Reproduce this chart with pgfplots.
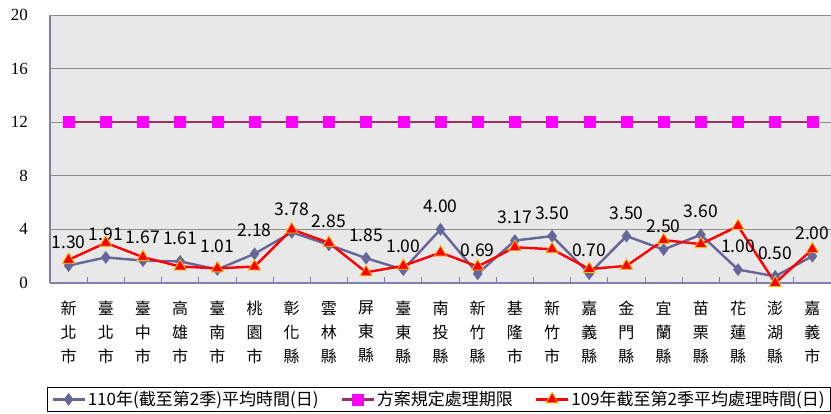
\documentclass[border=0pt]{standalone}
\usepackage{fontspec}
\setmainfont{Liberation Serif}
\newfontfamily\cjk{Noto Sans CJK TC}
\usepackage{pgfplots}
\pgfplotsset{compat=1.18}
\definecolor{bluec}{HTML}{666699}
\definecolor{magc}{HTML}{FF00FF}
\definecolor{marc}{HTML}{993366}
\definecolor{redc}{HTML}{FF0000}
\definecolor{yelc}{HTML}{FFC000}
\definecolor{bgc}{HTML}{E8E8E8}
\definecolor{axc}{HTML}{8080B0}
\definecolor{gridc}{HTML}{8C8C8C}
\begin{document}
\begin{tikzpicture}
\path[use as bounding box] (0,0) rectangle (831pt,413pt);
\begin{axis}[
  at={(50pt,130pt)}, anchor=south west,
  scale only axis, width=781pt, height=268pt,
  xmin=0.5, xmax=21.5, ymin=0, ymax=20,
  axis x line=bottom, axis y line=left,
  axis line style={-, color=axc, line width=1.2pt},
  axis background/.style={fill=bgc},
  ytick={0,4,...,20},
  ymajorgrids, major grid style={color=gridc, line width=0.9pt},
  major tick length=0pt,
  tick align=inside,
  /pgf/number format/assume math mode=true,
  yticklabel style={font=\fontsize{17}{17}\selectfont, inner sep=0pt, xshift=-22pt, anchor=east},
  xtick={1,...,21},
  xticklabels={新\\北\\市,臺\\北\\市,臺\\中\\市,高\\雄\\市,臺\\南\\市,桃\\園\\市,彰\\化\\縣,雲\\林\\縣,屏\\東\\縣,臺\\東\\縣,南\\投\\縣,新\\竹\\縣,基\\隆\\市,新\\竹\\市,嘉\\義\\縣,金\\門\\縣,宜\\蘭\\縣,苗\\栗\\縣,花\\蓮\\縣,澎\\湖\\縣,嘉\\義\\市},
  xticklabel style={font=\cjk\fontsize{16}{24}\selectfont, align=center, anchor=north, inner sep=0pt, yshift=-18pt},
  minor xtick={1.5,2.5,...,20.5},
  minor tick length=6pt,
  minor tick style={color=axc, line width=0.9pt},
  legend columns=3,
  legend style={at={(0,0)}, anchor=north west, xshift=-3pt, yshift=-104pt,
    draw=black, fill=white, line width=0.8pt,
    font=\cjk\fontsize{17}{17}\selectfont, inner xsep=4pt, inner ysep=2pt,
    /tikz/every even column/.append style={column sep=20pt}},
  legend image code/.code={\draw[mark repeat=2,mark phase=2,#1] plot coordinates {(0pt,0pt) (16pt,0pt) (32pt,0pt)};},
]
\addplot[color=bluec, line width=2.4pt, mark=diamond*, mark size=6pt,
  mark options={fill=bluec, draw=bluec, line width=0.5pt},
  nodes near coords={\pgfmathprintnumber[fixed,fixed zerofill,precision=2,assume math mode=true]{\pgfplotspointmeta}},
  every node near coord/.append style={font=\cjk\fontsize{17.5}{17.5}\selectfont, anchor=base, inner sep=0pt, yshift=17pt, color=black}]
coordinates {(1,1.30)(2,1.91)(3,1.67)(4,1.61)(5,1.01)(6,2.18)(7,3.78)(8,2.85)(9,1.85)(10,1.00)(11,4.00)(12,0.69)(13,3.17)(14,3.50)(15,0.70)(16,3.50)(17,2.50)(18,3.60)(19,1.00)(20,0.50)(21,2.00)};
\addlegendentry{110年(截至第2季)平均時間(日)}
\addplot[color=marc, line width=2.4pt, mark=square*, mark size=5.5pt,
  mark options={fill=magc, draw=magc, line width=0.5pt}]
coordinates {(1,12)(2,12)(3,12)(4,12)(5,12)(6,12)(7,12)(8,12)(9,12)(10,12)(11,12)(12,12)(13,12)(14,12)(15,12)(16,12)(17,12)(18,12)(19,12)(20,12)(21,12)};
\addlegendentry{方案規定處理期限}
\addplot[color=redc, line width=2.4pt, mark=triangle*, mark size=7pt,
  mark options={fill=redc, draw=yelc, line width=0.8pt}]
coordinates {(1,1.73)(2,3.00)(3,1.93)(4,1.23)(5,1.09)(6,1.23)(7,4.00)(8,3.00)(9,0.80)(10,1.28)(11,2.27)(12,1.23)(13,2.67)(14,2.52)(15,1.04)(16,1.28)(17,3.20)(18,2.90)(19,4.25)(20,0.00)(21,2.52)};
\addlegendentry{109年截至第2季平均處理時間(日)}
\end{axis}
\end{tikzpicture}
\end{document}
